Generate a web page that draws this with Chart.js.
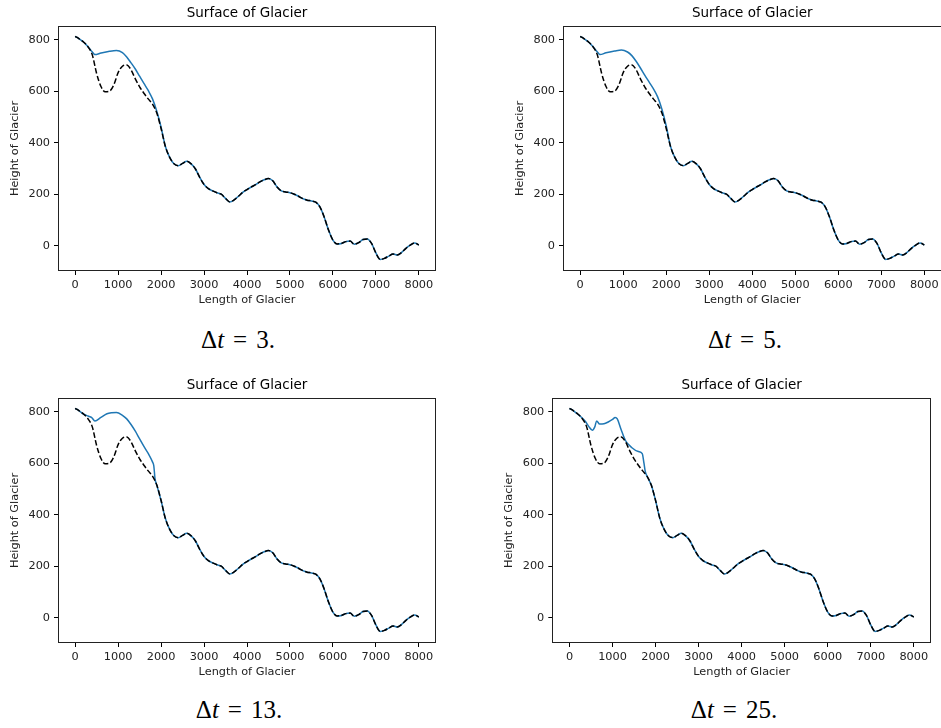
<!DOCTYPE html>
<html>
<head>
  <title>Surface of Glacier</title>
  <script src="https://cdn.jsdelivr.net/npm/chart.js@4"></script>
  <style>
    body {
      margin: 0;
      width: 941px;
      height: 728px;
      overflow: hidden;
      background: #fff;
      position: relative;
    }

    canvas {
      position: absolute;
    }

    .caption {
      position: absolute;
      width: 200px;
      margin-left: -100px;
      text-align: center;
      font-family: "Liberation Serif", "DejaVu Serif", serif;
      font-size: 25px;
      line-height: 26px;
      color: #000;
    }

    .caption .eq {
      margin: 0 9px;
    }
  </style>
</head>
<body>

  <canvas id="chart3" width="460" height="310" style="left:0px;top:0px"></canvas>
  <canvas id="chart5" width="480" height="310" style="left:470px;top:0px"></canvas>
  <canvas id="chart13" width="460" height="310" style="left:0px;top:372px"></canvas>
  <canvas id="chart25" width="471" height="310" style="left:470px;top:372px"></canvas>

  <div class="caption" style="left:238px;top:327px">&Delta;<i>t</i><span class="eq">=</span>3.</div>
  <div class="caption" style="left:745px;top:327px">&Delta;<i>t</i><span class="eq">=</span>5.</div>
  <div class="caption" style="left:239px;top:697px">&Delta;<i>t</i><span class="eq">=</span>13.</div>
  <div class="caption" style="left:734px;top:697px">&Delta;<i>t</i><span class="eq">=</span>25.</div>

  <script>
    // x positions along the glacier (every 100)
    const lengths = [
      0, 100, 200, 300, 400, 500, 600, 700, 800, 900,
      1000, 1100, 1200, 1300, 1400, 1500, 1600, 1700, 1800, 1900,
      2000, 2100, 2200, 2300, 2400, 2500, 2600, 2700, 2800, 2900,
      3000, 3100, 3200, 3300, 3400, 3500, 3600, 3700, 3800, 3900,
      4000, 4100, 4200, 4300, 4400, 4500, 4600, 4700, 4800, 4900,
      5000, 5100, 5200, 5300, 5400, 5500, 5600, 5700, 5800, 5900,
      6000, 6100, 6200, 6300, 6400, 6500, 6600, 6700, 6800, 6900,
      7000, 7100, 7200, 7300, 7400, 7500, 7600, 7700, 7800, 7900,
      8000
    ];

    // dashed black line (same in every panel)
    const initialSurface = [
      813, 802, 790, 772, 740, 668, 618, 598, 600, 625,
      672, 697, 702, 683, 648, 617, 592, 570, 550, 515,
      455, 385, 343, 318, 311, 320, 328, 318, 298, 265,
      238, 222, 213, 206, 200, 184, 170, 178, 192, 207,
      218, 228, 237, 248, 256, 261, 252, 228, 213, 209,
      206, 200, 192, 183, 177, 174, 169, 150, 110, 60,
      22, 7, 9, 16, 18, 6, 12, 24, 26, 9,
      -28, -53, -49, -40, -32, -36, -26, -10, 2, 11,
      3
    ];

    // blue lines: only the start differs from the dashed line
    const dt3X = [0, 100, 200, 300, 400, 460, 600, 800, 960, 1100, 1200, 1300, 1400, 1500, 1600, 1700, 1800, 1900, 2000];
    const dt3Y = [813, 802, 790, 772, 752, 742, 748, 755, 758, 750, 733, 710, 686, 658, 630, 603, 570, 522, 460];

    const dt5X = [0, 100, 200, 300, 400, 460, 600, 800, 960, 1100, 1200, 1300, 1400, 1500, 1600, 1700, 1800, 1900, 2000];
    const dt5Y = [813, 802, 790, 772, 752, 742, 749, 756, 760, 752, 738, 716, 690, 662, 636, 610, 578, 530, 465];

    const dt13X = [0, 100, 200, 300, 380, 460, 600, 740, 850, 960, 1100, 1200, 1300, 1400, 1500, 1600, 1700, 1800, 1830, 1860];
    const dt13Y = [813, 802, 790, 783, 778, 764, 778, 792, 796, 797, 786, 772, 750, 724, 694, 665, 638, 605, 590, 538];

    const dt25X = [0, 100, 250, 370, 450, 530, 590, 630, 700, 800, 900, 1000, 1060, 1110, 1190, 1300, 1450, 1600, 1690, 1730, 1760];
    const dt25Y = [813, 802, 782, 762, 742, 728, 742, 764, 752, 753, 760, 770, 777, 772, 735, 688, 660, 645, 637, 600, 568];

    const xTicks = [0, 1000, 2000, 3000, 4000, 5000, 6000, 7000, 8000];
    const yTicks = [0, 200, 400, 600, 800];

    const tickFont = { family: "DejaVu Sans", size: 11.3 };

    function toPoints(xs, ys) {
      return xs.map((x, i) => ({ x: x, y: ys[i] }));
    }

    // head of the blue line, then the dashed line values after it
    function blueLine(headX, headY) {
      const last = headX[headX.length - 1];
      const pts = toPoints(headX, headY);
      lengths.forEach((x, i) => {
        if (x > last) pts.push({ x: x, y: initialSurface[i] });
      });
      return pts;
    }

    // full box around the axes like matplotlib
    const framePlugin = {
      id: "frame",
      afterDatasetsDraw(chart) {
        const a = chart.chartArea;
        const ctx = chart.ctx;
        ctx.save();
        ctx.strokeStyle = "#222";
        ctx.lineWidth = 1;
        const l = Math.round(a.left) + 0.5;
        const t = Math.round(a.top) + 0.5;
        const r = Math.round(a.right) - 0.5;
        const b = Math.round(a.bottom) - 0.5;
        ctx.strokeRect(l, t, r - l, b - t);
        ctx.restore();
      }
    };

    function makeChart(id, headX, headY, padLeft, padRight) {
      const ctx = document.getElementById(id).getContext("2d");
      return new Chart(ctx, {
        type: "line",
        data: {
          datasets: [
            {
              label: "initial",
              data: toPoints(lengths, initialSurface),
              borderColor: "#000",
              borderWidth: 1.5,
              borderDash: [5.5, 2.4],
              pointRadius: 0,
              cubicInterpolationMode: "monotone",
              fill: false
            },
            {
              label: "surface",
              data: blueLine(headX, headY),
              borderColor: "#1f77b4",
              borderWidth: 1.5,
              pointRadius: 0,
              cubicInterpolationMode: "monotone",
              fill: false
            }
          ]
        },
        options: {
          responsive: false,
          animation: false,
          devicePixelRatio: 1,
          layout: { padding: { left: padLeft, right: padRight, top: 0, bottom: 0 } },
          plugins: {
            legend: { display: false },
            tooltip: { enabled: false },
            title: {
              display: true,
              text: "Surface of Glacier",
              fullSize: false,
              color: "#000",
              font: { family: "DejaVu Sans", size: 13.5, weight: "normal" },
              padding: { top: 5.5, bottom: 4.3 }
            }
          },
          scales: {
            x: {
              type: "linear",
              min: -400,
              max: 8400,
              afterFit: s => { s.height = 39; },
              afterBuildTicks: s => { s.ticks = xTicks.map(v => ({ value: v })); },
              grid: { drawOnChartArea: false, drawTicks: true, tickLength: 4, tickColor: "#000" },
              border: { display: false },
              ticks: {
                color: "#222",
                font: tickFont,
                padding: 3,
                maxRotation: 0,
                autoSkip: false,
                callback: v => String(v)
              },
              title: {
                display: true,
                text: "Length of Glacier",
                color: "#222",
                font: tickFont,
                padding: { top: 0, bottom: 3 }
              }
            },
            y: {
              min: -98,
              max: 853,
              afterFit: s => { s.width = 58; },
              afterBuildTicks: s => { s.ticks = yTicks.map(v => ({ value: v })); },
              grid: { drawOnChartArea: false, drawTicks: true, tickLength: 4, tickColor: "#000" },
              border: { display: false },
              ticks: { color: "#222", font: tickFont, padding: 4, callback: v => String(v) },
              title: {
                display: true,
                text: "Height of Glacier",
                color: "#222",
                font: tickFont,
                padding: { top: 8, bottom: 0 }
              }
            }
          }
        },
        plugins: [framePlugin]
      });
    }

    makeChart("chart3", dt3X, dt3Y, 0, 24);
    makeChart("chart5", dt5X, dt5Y, 35, 8.5);
    makeChart("chart13", dt13X, dt13Y, 0, 24);
    makeChart("chart25", dt25X, dt25Y, 24.3, 10);
  </script>

</body>
</html>
